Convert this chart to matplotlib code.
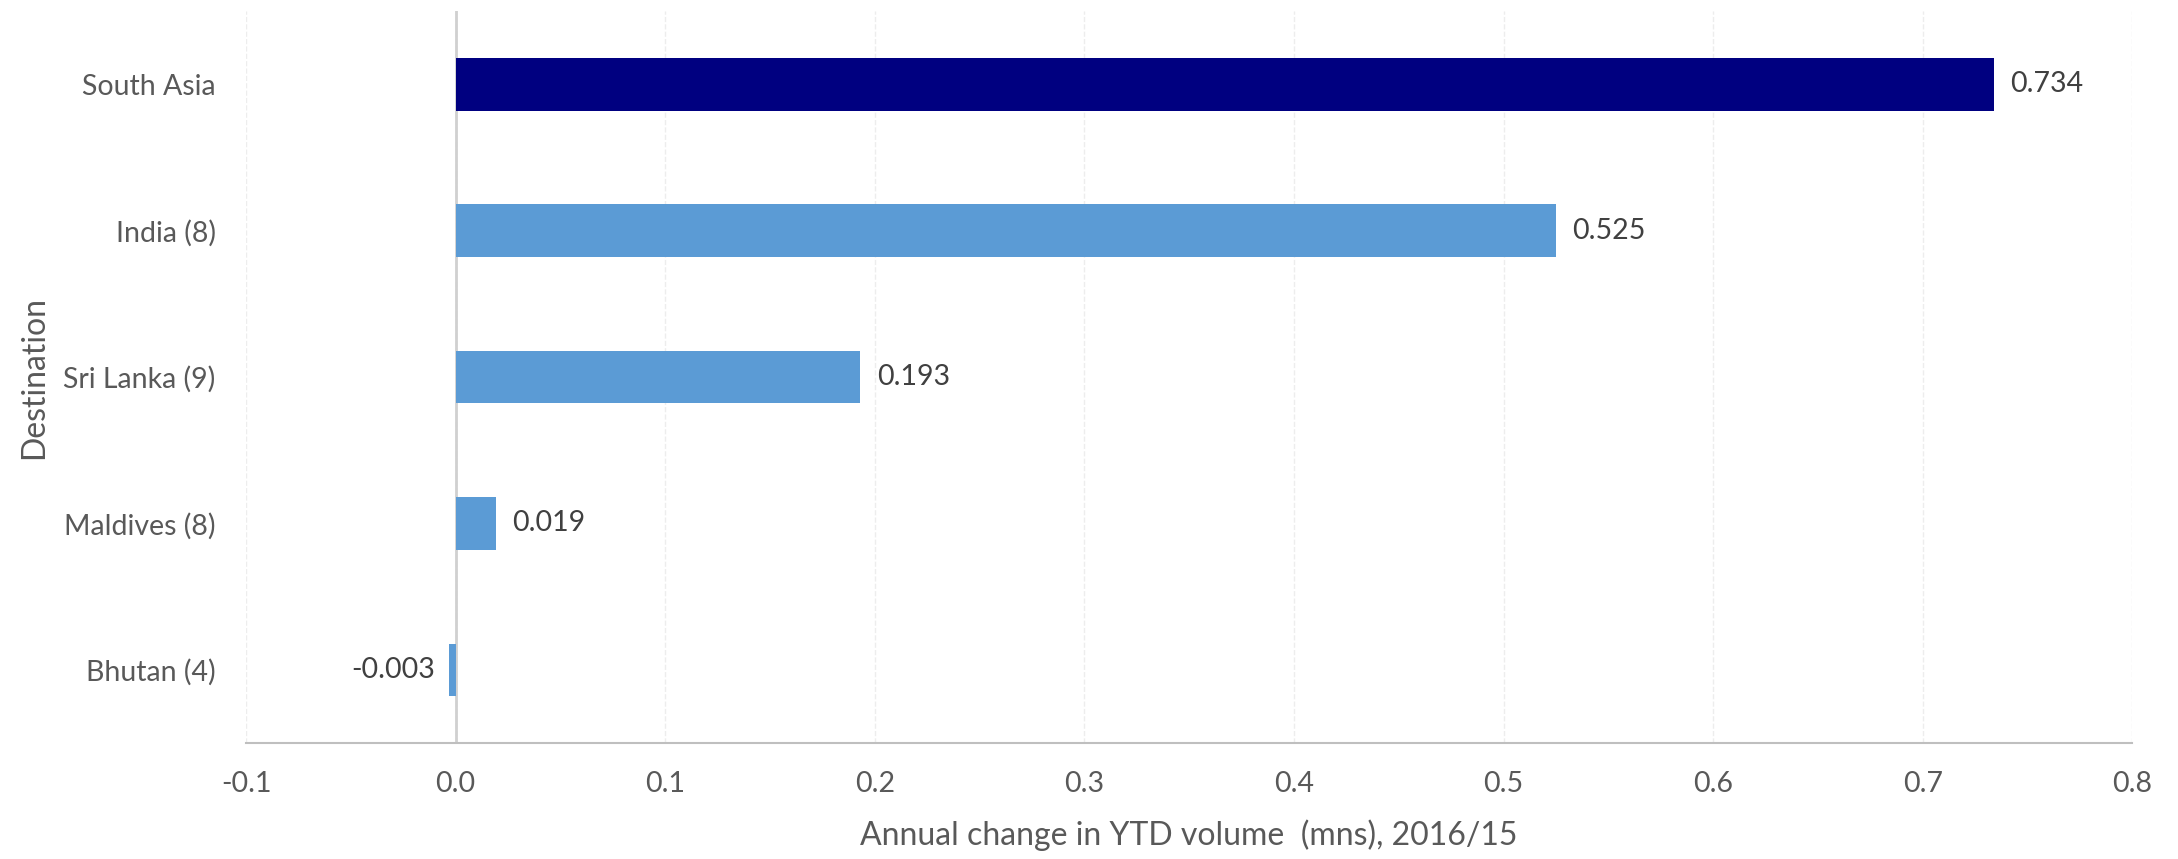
import matplotlib.pyplot as plt

plt.rcParams['font.family'] = ['Lato', 'DejaVu Sans']

destinations = ['South Asia', 'India (8)', 'Sri Lanka (9)', 'Maldives (8)', 'Bhutan (4)']
changes = [0.734, 0.525, 0.193, 0.019, -0.003]
value_labels = ['0.734', '0.525', '0.193', '0.019', '-0.003']
bar_colors = ['#000080', '#5B9BD5', '#5B9BD5', '#5B9BD5', '#5B9BD5']
xticks = [-0.1, 0.0, 0.1, 0.2, 0.3, 0.4, 0.5, 0.6, 0.7, 0.8]
xtick_labels = ['-0.1', '0.0', '0.1', '0.2', '0.3', '0.4', '0.5', '0.6', '0.7', '0.8']

fig = plt.figure(figsize=(21.78, 8.59), dpi=100)
ax = fig.add_axes([0.113, 0.135, 0.866, 0.852])

ypos = list(range(len(destinations)))
ax.barh(ypos, changes, height=0.36, color=bar_colors, zorder=3)

for y, v, lab in zip(ypos, changes, value_labels):
  if v >= 0:
    ax.annotate(lab, (v, y), xytext=(12, 0), textcoords='offset points',
                ha='left', va='center', fontsize=20.5, color='#404040')
  else:
    ax.annotate(lab, (v, y), xytext=(-10, 0), textcoords='offset points',
                ha='right', va='center', fontsize=20.5, color='#404040')

ax.set_xlim(-0.1, 0.8)
ax.set_ylim(4.5, -0.5)
ax.set_yticks(ypos)
ax.set_yticklabels(destinations)
ax.set_xticks(xticks)
ax.set_xticklabels(xtick_labels)
ax.tick_params(axis='both', length=0, labelsize=20.5, labelcolor='#595959')
ax.tick_params(axis='x', pad=20)
ax.tick_params(axis='y', pad=22)

ax.grid(axis='x', color='#ededed', linestyle='--', linewidth=1, zorder=0)
ax.axvline(0, color='#d0d0d0', linewidth=2, zorder=2)

for s in ['top', 'right', 'left']:
  ax.spines[s].set_visible(False)
ax.spines['bottom'].set_color('#bfbfbf')
ax.spines['bottom'].set_linewidth(1.5)

ax.set_xlabel('Annual change in YTD volume  (mns), 2016/15', fontsize=23, color='#595959', labelpad=16)
ax.set_ylabel('Destination', fontsize=23, color='#595959', labelpad=10)

plt.savefig('out.png', dpi=100)
